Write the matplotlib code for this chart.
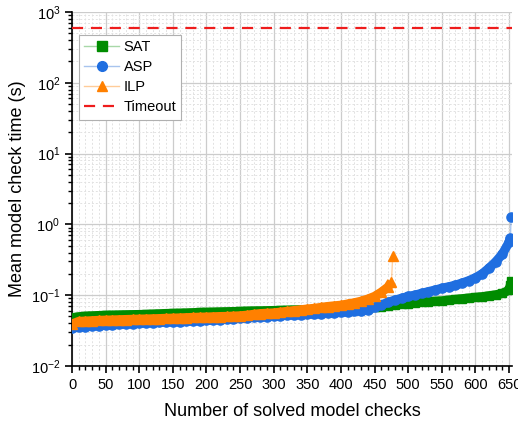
import matplotlib
matplotlib.use("Agg")
import matplotlib.pyplot as plt
from matplotlib.ticker import MultipleLocator, LogLocator, NullFormatter

plt.rcParams['font.family'] = ['Liberation Sans', 'DejaVu Sans']
plt.rcParams['mathtext.fontset'] = 'custom'
plt.rcParams['mathtext.rm'] = 'Liberation Sans'
plt.rcParams['mathtext.it'] = 'Liberation Sans:italic'

# mean model check time (s), sorted, read every 10 solved checks
sat_x = list(range(0, 660, 10)) + [652, 653]
sat_y = [0.048, 0.0495, 0.0505, 0.051, 0.0515, 0.052, 0.0522, 0.0525, 0.0528, 0.053,
         0.0532, 0.0535, 0.054, 0.0545, 0.055, 0.0553, 0.0556, 0.056, 0.0565, 0.057,
         0.0573, 0.0576, 0.058, 0.0583, 0.0586, 0.059, 0.0595, 0.0598, 0.060, 0.0603,
         0.0606, 0.061, 0.0614, 0.0618, 0.062, 0.0624, 0.0628, 0.0632, 0.0636, 0.064,
         0.0645, 0.065, 0.0655, 0.066, 0.0665, 0.067, 0.069, 0.071, 0.073, 0.0745,
         0.076, 0.078, 0.0795, 0.081, 0.082, 0.083, 0.085, 0.087, 0.089, 0.091,
         0.093, 0.095, 0.098, 0.101, 0.106, 0.118, 0.14, 0.158]

asp_x = list(range(0, 660, 10)) + [652, 653]
asp_y = [0.0345, 0.0355, 0.036, 0.0365, 0.037, 0.0375, 0.038, 0.0385, 0.039, 0.0395,
         0.040, 0.0405, 0.041, 0.0413, 0.0417, 0.042, 0.0424, 0.0428, 0.0432, 0.0436,
         0.044, 0.0445, 0.045, 0.0458, 0.0463, 0.047, 0.0477, 0.0484, 0.049, 0.0498,
         0.0505, 0.0512, 0.052, 0.0525, 0.053, 0.0537, 0.0544, 0.055, 0.0557, 0.0563,
         0.057, 0.058, 0.059, 0.060, 0.0625, 0.067, 0.073, 0.079, 0.085, 0.090,
         0.096, 0.100, 0.106, 0.112, 0.118, 0.125, 0.131, 0.138, 0.148, 0.160,
         0.176, 0.200, 0.240, 0.295, 0.38, 0.56, 0.65, 1.27]

ilp_x = list(range(0, 480, 10)) + [475, 477]
ilp_y = [0.039, 0.0425, 0.043, 0.0435, 0.044, 0.0443, 0.0446, 0.0449, 0.0452, 0.0455,
         0.0458, 0.046, 0.0463, 0.0466, 0.047, 0.0473, 0.0476, 0.048, 0.0484, 0.0488,
         0.049, 0.0494, 0.0498, 0.050, 0.0505, 0.051, 0.052, 0.0535, 0.0548, 0.0555,
         0.056, 0.0575, 0.059, 0.0605, 0.062, 0.0636, 0.065, 0.067, 0.069, 0.0705,
         0.072, 0.075, 0.078, 0.082, 0.088, 0.096, 0.110, 0.130, 0.155, 0.36]

timeout = 600

fig = plt.figure(figsize=(5.18, 4.26), dpi=100)
ax = fig.add_axes([0.139, 0.141, 0.849, 0.831])

green = '#008c00'
blue = '#1f6ee0'
orange = '#ff8000'


def draw_series(x, y, color, marker, ms):
    # thin light connector through all points
    ax.plot(x, y, color=color, lw=1, alpha=0.35, zorder=2)
    # dense run of markers reads as a solid band (all but the last outlier)
    ax.plot(x[:-1], y[:-1], color=color, lw=6.6, solid_joinstyle='round',
            solid_capstyle='butt', zorder=3)
    ax.plot(x, y, ls='none', marker=marker, ms=ms, color=color, mec=color, zorder=3)


draw_series(sat_x, sat_y, green, 's', 6)
draw_series(asp_x, asp_y, blue, 'o', 6.6)
draw_series(ilp_x, ilp_y, orange, '^', 7)
ax.axhline(timeout, color='#ee1c1c', lw=1.6, ls=(0, (5, 3.5)), zorder=3)

# legend proxies (light line with marker in the middle)
h_sat, = ax.plot([], [], color='#a8d8a8', lw=1, marker='s', ms=7, mfc=green, mec=green)
h_asp, = ax.plot([], [], color='#a8c4ee', lw=1, marker='o', ms=7, mfc=blue, mec=blue)
h_ilp, = ax.plot([], [], color='#ffcc99', lw=1, marker='^', ms=7.5, mfc=orange, mec=orange)
h_to, = ax.plot([], [], color='#ee1c1c', lw=1.6, ls=(0, (5, 3.5)))
leg = ax.legend([h_sat, h_asp, h_ilp, h_to], ['SAT', 'ASP', 'ILP', 'Timeout'],
                loc='upper left', bbox_to_anchor=(0.016, 0.935), borderaxespad=0,
                fontsize=10.5, fancybox=False, framealpha=1, edgecolor='#b0b0b0',
                handlelength=2.4, handletextpad=0.3, labelspacing=0.42, borderpad=0.35)
leg.get_frame().set_linewidth(0.8)

ax.set_yscale('log')
ax.set_ylim(1e-2, 1e3)
ax.set_xlim(0, 654)
ax.xaxis.set_major_locator(MultipleLocator(50))
ax.xaxis.set_minor_locator(MultipleLocator(10))
ax.yaxis.set_minor_locator(LogLocator(base=10, subs=range(2, 10)))
ax.yaxis.set_minor_formatter(NullFormatter())

ax.grid(which='major', color='#cccccc', lw=0.9)
ax.grid(which='minor', color='#e2e2e2', lw=0.7, ls=(0, (2, 2)))
ax.set_axisbelow(True)

for s in ['top', 'right']:
    ax.spines[s].set_visible(False)
for s in ['left', 'bottom']:
    ax.spines[s].set_linewidth(1.2)

ax.tick_params(which='major', direction='out', length=5, width=1.2, labelsize=10.5)
ax.tick_params(which='minor', direction='out', length=3, width=1)

ax.set_xlabel('Number of solved model checks', fontsize=13, labelpad=8)
ax.set_ylabel('Mean model check time (s)', fontsize=13, labelpad=3)

fig.savefig('out.png', dpi=100)
